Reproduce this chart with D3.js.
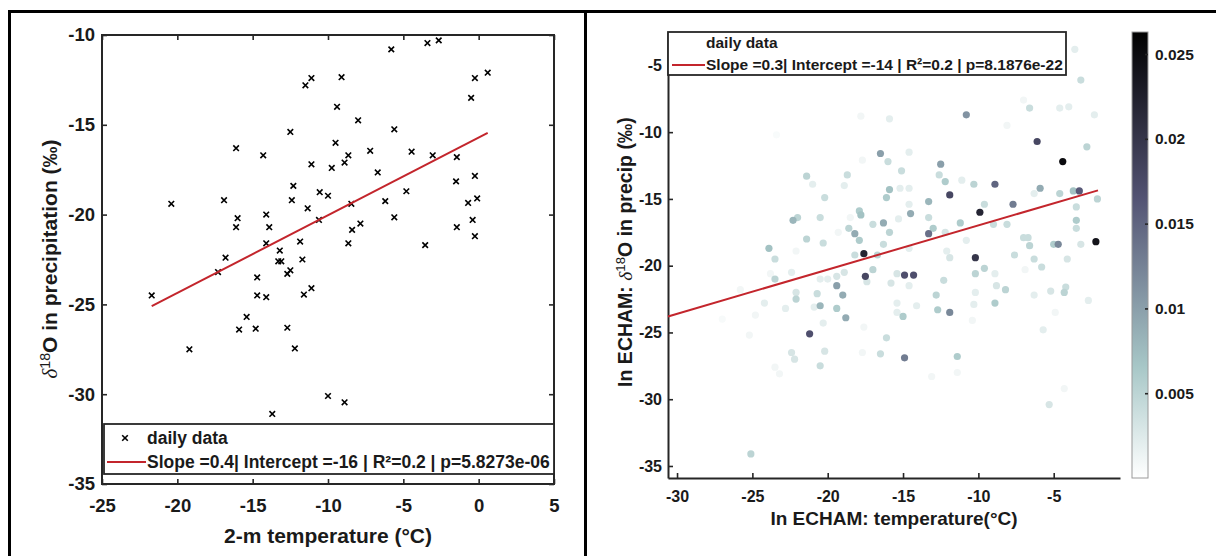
<!DOCTYPE html>
<html><head><meta charset="utf-8">
<script src="https://cdn.jsdelivr.net/npm/d3@7"></script>
<style>body{margin:0;background:#fff}svg{display:block}</style>
</head><body><svg id="c" width="1216" height="556"></svg>
<script>
// ---------- DATA ----------
// Left panel: observed daily data
const obsTemp = [-20.4,-16.1,-14.3,-12.5,-12.3,-12.4,-16.9,-16.0,-16.1,-14.1,-13.9,-14.1,-13.2,-13.3,-13.1,-16.8,-17.3,-14.7,-12.7,-12.5,-11.85,-21.7,-14.7,-14.1,-15.4,-15.9,-14.8,-12.7,-12.2,-19.2,-13.7,-11.6,-11.1,-10.0,-8.9,-5.8,-3.4,-2.65,0.6,-0.25,-0.5,-11.5,-11.1,-9.1,-9.4,-8.0,-5.6,-9.5,-8.65,-8.9,-7.2,-4.45,-3.05,-1.45,-11.1,-9.75,-6.7,-1.5,-0.25,-10.55,-10.0,-4.8,-11.35,-8.45,-6.2,-0.7,-0.1,-10.6,-5.6,-7.85,-8.4,-0.4,-1.45,-0.25,-8.65,-3.55,-11.7];
const obsD18O = [-19.4,-16.3,-16.7,-15.4,-18.4,-19.2,-19.2,-20.2,-20.7,-20.0,-20.7,-21.6,-22.0,-22.6,-22.6,-22.4,-23.2,-23.5,-23.3,-23.1,-21.5,-24.5,-24.5,-24.6,-25.7,-26.4,-26.35,-26.3,-27.45,-27.5,-31.1,-24.45,-24.1,-30.1,-30.45,-10.8,-10.45,-10.3,-12.1,-12.4,-13.5,-12.8,-12.4,-12.35,-14.0,-14.75,-15.25,-16.0,-16.7,-17.1,-16.45,-16.5,-16.7,-16.8,-17.2,-17.4,-17.65,-18.15,-17.85,-18.75,-18.95,-18.7,-19.65,-19.4,-19.25,-19.35,-19.1,-20.3,-20.15,-20.5,-20.85,-20.3,-20.7,-21.2,-21.6,-21.7,-22.5];
const obsFitT = [-21.7, 0.6];
const obsFitD = [-25.1, -15.45];
const obsLegend = ["daily data", "Slope =0.4| Intercept =-16 | R\u00B2=0.2 | p=5.8273e-06"];

// Right panel: ECHAM daily data (temperature, d18O, colour weight)
const echamTemp = [-17.8,-15.9,-23.4,-16.5,-16.0,-21.4,-18.7,-21.0,-18.9,-15.9,-16.1,-20.2,-17.7,-17.9,-17.8,-22.3,-22.0,-20.5,-18.5,-18.6,-18.2,-17.0,-16.3,-15.9,-21.4,-20.3,-17.9,-16.3,-19.3,-15.3,-23.9,-23.5,-17.6,-18.2,-16.7,-22.1,-17.5,-17.0,-18.9,-19.4,-23.5,-22.4,-15.8,-19.4,-19.0,-20.7,-22.1,-20.5,-20.0,-15.4,-23.8,-22.1,-20.5,-19.4,-18.8,-24.2,-22.8,-20.9,-24.8,-20.3,-21.2,-25.2,-16.1,-16.5,-22.4,-22.2,-20.2,-20.5,-23.5,-23.2,-17.7,-17.6,-17.4,-15.4,-25.1,-15.4,-14.9,-14.3,-15.0,-14.9,-14.6,-12.3,-12.8,-14.1,-12.7,-11.9,-10.3,-8.9,-8.8,-8.2,-10.2,-11.4,-13.1,-10.4,-6.3,-5.2,-4.3,-4.2,-2.7,-5.7,-4.9,-4.3,-5.3,-11.4,-10.8,-6.6,-4.6,-4.0,-2.3,-8.1,-6.1,-2.8,-4.4,-14.6,-12.5,-12.6,-12.2,-11.1,-10.3,-8.9,-15.1,-15.2,-14.6,-11.9,-13.3,-5.9,-6.3,-4.6,-3.7,-3.3,-2.1,-9.6,-7.7,-9.9,-14.5,-14.6,-13.3,-11.2,-9.0,-8.1,-3.5,-3.5,-3.5,-13.3,-13.0,-12.2,-10.8,-7.0,-6.7,-6.6,-5.0,-4.7,-3.2,-2.2,-10.2,-14.6,-12.1,-11.9,-9.6,-10.2,-8.9,-7.6,-6.3,-5.8,-4.1,-6.9,-3.2,-3.6,-7.0,-25.8,-27.0];
const echamD18O = [-8.8,-9.0,-10.2,-11.6,-12.2,-13.3,-13.2,-13.9,-14.0,-14.3,-14.9,-14.9,-12.1,-15.9,-16.2,-16.6,-16.4,-16.4,-16.4,-17.2,-17.6,-16.9,-16.8,-17.5,-18.0,-18.3,-18.1,-18.4,-17.5,-16.5,-18.7,-19.5,-19.1,-19.2,-19.2,-18.9,-20.8,-20.3,-20.5,-20.8,-21.0,-20.5,-21.3,-21.5,-22.2,-22.1,-22.0,-21.0,-21.0,-20.6,-20.6,-22.5,-23.0,-23.2,-23.9,-22.8,-23.2,-23.1,-23.7,-24.3,-25.1,-25.2,-25.4,-26.6,-26.5,-27.0,-26.4,-27.5,-27.6,-28.1,-26.5,-24.6,-21.2,-22.8,-34.1,-23.5,-20.7,-20.7,-23.8,-26.9,-21.5,-21.1,-22.2,-23.0,-23.3,-23.5,-22.9,-22.8,-21.5,-21.8,-22.0,-26.8,-28.3,-24.1,-22.2,-21.9,-22.0,-21.6,-22.6,-24.8,-23.5,-29.2,-30.4,-28.0,-8.7,-8.2,-8.2,-8.1,-8.7,-9.5,-10.7,-11.1,-12.2,-11.5,-12.4,-13.2,-13.7,-13.6,-13.9,-13.9,-12.9,-14.2,-14.2,-14.7,-15.2,-14.2,-14.6,-14.6,-14.4,-14.4,-15.0,-15.4,-15.4,-16.0,-16.1,-15.4,-16.4,-16.8,-16.9,-16.9,-16.6,-17.2,-15.6,-17.6,-17.2,-17.5,-18.1,-17.9,-17.9,-18.5,-18.4,-18.4,-18.4,-18.2,-19.4,-18.7,-18.9,-19.4,-20.2,-20.6,-20.6,-19.2,-19.5,-20.1,-19.5,-20.3,-6.1,-3.8,-7.6,-21.8,-24.0];
const echamWeight = [0.001,0.002,0.0005,0.010,0.004,0.005,0.004,0.002,0.002,0.007,0.006,0.004,0.001,0.006,0.007,0.008,0.005,0.004,0.001,0.005,0.009,0.004,0.009,0.005,0.005,0.004,0.006,0.004,0.001,0.002,0.007,0.004,0.022,0.004,0.005,0.001,0.018,0.005,0.003,0.003,0.005,0.002,0.003,0.010,0.009,0.004,0.003,0.002,0.002,0.003,0.001,0.005,0.008,0.006,0.009,0.002,0.002,0.002,0.001,0.002,0.017,0.001,0.004,0.004,0.003,0.003,0.003,0.004,0.001,0.001,0.001,0.001,0.003,0.002,0.005,0.002,0.017,0.017,0.006,0.013,0.002,0.004,0.005,0.002,0.006,0.012,0.002,0.006,0.003,0.005,0.002,0.006,0.001,0.001,0.002,0.003,0.005,0.004,0.002,0.002,0.001,0.001,0.003,0.001,0.011,0.004,0.002,0.002,0.002,0.001,0.018,0.005,0.025,0.002,0.010,0.004,0.006,0.002,0.005,0.015,0.004,0.002,0.002,0.018,0.008,0.009,0.002,0.005,0.007,0.016,0.005,0.004,0.013,0.022,0.009,0.002,0.004,0.006,0.004,0.004,0.006,0.004,0.004,0.014,0.006,0.003,0.002,0.004,0.004,0.005,0.006,0.012,0.003,0.024,0.020,0.002,0.002,0.003,0.005,0.005,0.002,0.004,0.004,0.004,0.003,0.001,0.004,0.002,0.001,0.001,0.0006];
const echamFitT = [-30.6, -2.06];
const echamFitD = [-23.8, -14.36];
const echamLegend = ["daily data", "Slope =0.3| Intercept =-14 | R\u00B2=0.2 | p=8.1876e-22"];

// Tick labels
const leftXTicks = [-25,-20,-15,-10,-5,0,5];
const leftYTicks = [-10,-15,-20,-25,-30,-35];
const rightXTicks = [-30,-25,-20,-15,-10,-5];
const rightYTicks = [-5,-10,-15,-20,-25,-30,-35];
const cbarTicks = [0.005,0.01,0.015,0.02,0.025];
// colormap (reversed MATLAB "bone"), positions as fraction of colour range
const cmapPos = [0, 0.25, 0.625, 1];
const cmapCol = ["#ffffff", "#a7c7c7", "#545474", "#000000"];

// ---------- DRAW ----------
const FONT = '"Liberation Sans", Arial, Helvetica, sans-serif';
const AX = '#262626';
const RED = '#c3252c';
const svg = d3.select('#c');

// outer frame
const frame = svg.append('g').attr('stroke', '#000').attr('stroke-width', 3);
frame.append('line').attr('x1', 8).attr('x2', 1216).attr('y1', 11.5).attr('y2', 11.5);
frame.append('line').attr('x1', 9.5).attr('x2', 9.5).attr('y1', 10).attr('y2', 556);
frame.append('line').attr('x1', 585.5).attr('x2', 585.5).attr('y1', 10).attr('y2', 556);

function styleAxis(g, fs, showDomain) {
  g.selectAll('text').attr('font-family', FONT).attr('font-weight', 'bold')
    .attr('font-size', fs).attr('fill', '#1a1a1a');
  g.selectAll('.tick line').attr('stroke', AX).attr('stroke-width', 1.6);
  g.select('.domain').attr('stroke', showDomain ? AX : 'none').attr('stroke-width', 2);
}
const fmt = d => String(d);

// ===== Left panel =====
const L = {x0: 102, x1: 554, y0: 35, y1: 484};
const lx = d3.scaleLinear().domain([-25, 5]).range([L.x0, L.x1]);
const ly = d3.scaleLinear().domain([-35, -10]).range([L.y1, L.y0]);

svg.append('g').attr('transform', `translate(0,${L.y1})`)
  .call(d3.axisBottom(lx).tickValues(leftXTicks).tickSizeInner(-5).tickSizeOuter(0).tickPadding(15).tickFormat(fmt))
  .call(g => styleAxis(g, 18.5, false));
svg.append('g').attr('transform', `translate(0,${L.y0})`)
  .call(d3.axisTop(lx).tickValues(leftXTicks).tickSizeInner(-5).tickSizeOuter(0).tickFormat(''))
  .call(g => styleAxis(g, 18.5, false));
svg.append('g').attr('transform', `translate(${L.x0},0)`)
  .call(d3.axisLeft(ly).tickValues(leftYTicks).tickSizeInner(-5).tickSizeOuter(0).tickPadding(7).tickFormat(fmt))
  .call(g => styleAxis(g, 18.5, false));
svg.append('g').attr('transform', `translate(${L.x1},0)`)
  .call(d3.axisRight(ly).tickValues(leftYTicks).tickSizeInner(-5).tickSizeOuter(0).tickFormat(''))
  .call(g => styleAxis(g, 18.5, false));
svg.append('rect').attr('x', L.x0).attr('y', L.y0).attr('width', L.x1 - L.x0).attr('height', L.y1 - L.y0)
  .attr('fill', 'none').attr('stroke', AX).attr('stroke-width', 2);

const xMark = 'M-2.8,-2.8L2.8,2.8M-2.8,2.8L2.8,-2.8';
svg.append('g').selectAll('path').data(obsTemp.map((t, i) => [t, obsD18O[i]])).join('path')
  .attr('d', xMark).attr('transform', d => `translate(${lx(d[0])},${ly(d[1])})`)
  .attr('stroke', '#000').attr('stroke-width', 1.6).attr('fill', 'none');

svg.append('path').datum(obsFitT.map((t, i) => [t, obsFitD[i]]))
  .attr('d', d3.line().x(d => lx(d[0])).y(d => ly(d[1])))
  .attr('stroke', RED).attr('stroke-width', 2).attr('fill', 'none');

// left legend
const lg = svg.append('g');
lg.append('rect').attr('x', 104).attr('y', 424).attr('width', 450).attr('height', 50)
  .attr('fill', '#fff').attr('stroke', AX).attr('stroke-width', 1.8);
lg.append('path').attr('d', xMark).attr('transform', 'translate(125,438)')
  .attr('stroke', '#000').attr('stroke-width', 1.6);
lg.append('line').attr('x1', 107).attr('x2', 146).attr('y1', 462).attr('y2', 462)
  .attr('stroke', RED).attr('stroke-width', 2);
lg.selectAll('text').data(obsLegend).join('text')
  .attr('x', 147).attr('y', (d, i) => 444 + i * 24)
  .attr('font-family', FONT).attr('font-weight', 'bold').attr('font-size', 17.5).attr('fill', '#1a1a1a')
  .text(d => d);

// axis labels
svg.append('text').attr('x', 328).attr('y', 543).attr('text-anchor', 'middle')
  .attr('font-family', FONT).attr('font-weight', 'bold').attr('font-size', 21).attr('fill', '#1a1a1a')
  .text('2-m temperature (\u00B0C)');
function yLabel(x, y, prefix, rest, fs) {
  const t = svg.append('text').attr('transform', `translate(${x},${y}) rotate(-90)`)
    .attr('text-anchor', 'middle').attr('font-family', FONT).attr('font-weight', 'bold')
    .attr('font-size', fs).attr('fill', '#1a1a1a').attr('dy', '0.35em');
  if (prefix) t.append('tspan').text(prefix);
  t.append('tspan').attr('font-family', '"Liberation Serif", "DejaVu Serif", serif').attr('font-style', 'italic')
    .attr('font-weight', 'normal').text('\u03B4');
  t.append('tspan').attr('font-size', fs * 0.68).attr('font-weight', 'normal').attr('dy', '-0.55em').text('18');
  t.append('tspan').attr('dy', '0.38em').text(rest);
}
yLabel(50, 259, null, 'O in precipitation (\u2030)', 21);

// ===== Right panel =====
const R = {x0: 668, x1: 1120, y0: 32, y1: 478};
const rx = d3.scaleLinear().domain([-30.6, -0.6]).range([R.x0, R.x1]);
const ry = d3.scaleLinear().domain([-35.9, -2.5]).range([R.y1, R.y0]);
const cmax = 0.0263;
const color = d3.scaleLinear().domain(cmapPos.map(p => p * cmax)).range(cmapCol).interpolate(d3.interpolateRgb).clamp(true);

svg.append('g').attr('transform', `translate(0,${R.y1})`)
  .call(d3.axisBottom(rx).tickValues(rightXTicks).tickSizeInner(-5).tickSizeOuter(0).tickPadding(13).tickFormat(fmt))
  .call(g => styleAxis(g, 16, true));
svg.append('g').attr('transform', `translate(${R.x0},0)`)
  .call(d3.axisLeft(ry).tickValues(rightYTicks).tickSizeInner(-5).tickSizeOuter(0).tickPadding(6).tickFormat(fmt))
  .call(g => styleAxis(g, 16, true));

const pts = echamTemp.map((t, i) => ({t, d: echamD18O[i], w: echamWeight[i]}))
  .sort((a, b) => a.w - b.w);
svg.append('g').selectAll('circle').data(pts).join('circle')
  .attr('cx', d => rx(d.t)).attr('cy', d => ry(d.d)).attr('r', 3.6)
  .attr('fill', d => color(d.w));

svg.append('path').datum(echamFitT.map((t, i) => [t, echamFitD[i]]))
  .attr('d', d3.line().x(d => rx(d[0])).y(d => ry(d[1])))
  .attr('stroke', RED).attr('stroke-width', 2).attr('fill', 'none');

// right legend
const rg = svg.append('g');
rg.append('rect').attr('x', 668).attr('y', 32).attr('width', 398).attr('height', 43)
  .attr('fill', '#fff').attr('stroke', AX).attr('stroke-width', 1.8);
rg.append('line').attr('x1', 672).attr('x2', 705).attr('y1', 65).attr('y2', 65)
  .attr('stroke', RED).attr('stroke-width', 2);
rg.selectAll('text').data(echamLegend).join('text')
  .attr('x', 706).attr('y', (d, i) => 48 + i * 22)
  .attr('font-family', FONT).attr('font-weight', 'bold').attr('font-size', 15.5).attr('fill', '#1a1a1a')
  .text(d => d);

svg.append('text').attr('x', 894).attr('y', 525).attr('text-anchor', 'middle')
  .attr('font-family', FONT).attr('font-weight', 'bold').attr('font-size', 19).attr('fill', '#1a1a1a')
  .text('In ECHAM: temperature(\u00B0C)');
yLabel(625, 252, 'In ECHAM: ', 'O in precip (\u2030)', 19.5);

// colorbar
const cb = {x0: 1132, x1: 1148};
const cy = d3.scaleLinear().domain([0, cmax]).range([R.y1, R.y0]);
const grad = svg.append('defs').append('linearGradient').attr('id', 'cbg')
  .attr('x1', 0).attr('y1', 1).attr('x2', 0).attr('y2', 0);
grad.selectAll('stop').data(cmapPos).join('stop')
  .attr('offset', d => d).attr('stop-color', (d, i) => cmapCol[i]);
svg.append('rect').attr('x', cb.x0).attr('y', cy(cmax)).attr('width', cb.x1 - cb.x0)
  .attr('height', cy(0) - cy(cmax)).attr('fill', 'url(#cbg)').attr('stroke', '#9a9a9a').attr('stroke-width', 1);
svg.append('g').attr('transform', `translate(${cb.x1},0)`)
  .call(d3.axisRight(cy).tickValues(cbarTicks).tickSizeInner(-3).tickSizeOuter(0).tickPadding(7).tickFormat(fmt))
  .call(g => styleAxis(g, 15.5, false));
</script></body></html>
